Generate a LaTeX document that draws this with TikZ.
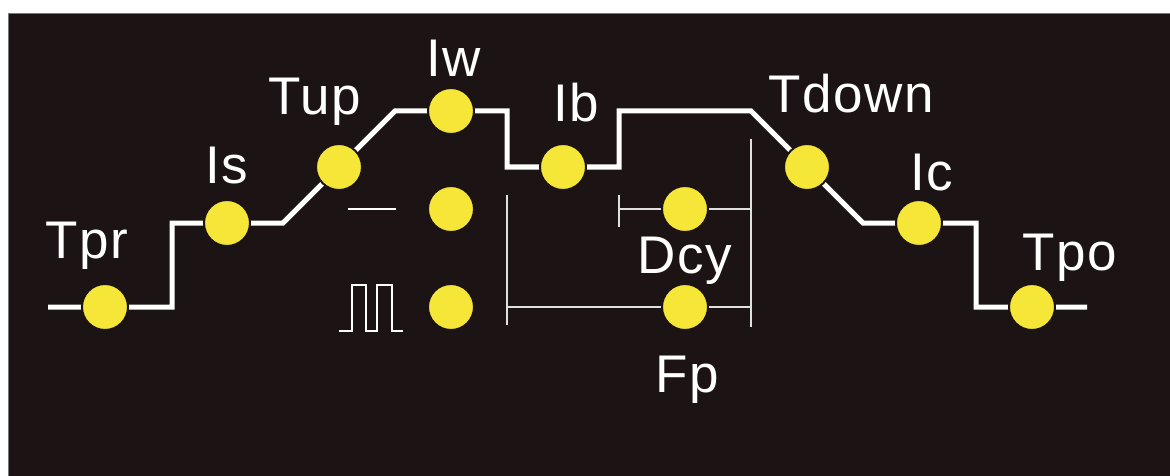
\documentclass[tikz,border=0pt]{standalone}
\usepackage{fontspec}
\setmainfont{Liberation Sans}
\usepackage{tikz}
\usetikzlibrary{backgrounds}
\definecolor{panel}{RGB}{27, 19, 20}
\definecolor{dotyellow}{RGB}{245, 230, 55}
\definecolor{rim}{RGB}{120, 120, 120}

\begin{document}
\begin{tikzpicture}[
    x=1pt, y=-1pt,
    dot/.style={circle, fill=dotyellow, draw=panel, line width=2pt, minimum size=46pt, inner sep=0pt},
    tag/.style={text=white, anchor=base, inner sep=0pt, font=\fontsize{53}{60}\selectfont\addfontfeature{LetterSpace=3}},
    wave/.style={white, line width=5pt, line join=miter},
    bracket/.style={white!88!black, line width=2pt},
    sym/.style={white, line width=2.5pt, line join=miter}
]
    \useasboundingbox (0,0) rectangle (1170,476);

    % dots on the weld curve
    \node[dot] (tpr) at (105,307) {};
    \node[dot] (is) at (227,223) {};
    \node[dot] (tup) at (339,167) {};
    \node[dot] (iw) at (451,111) {};
    \node[dot] (ib) at (563,167) {};
    \node[dot] (tdown) at (807,167) {};
    \node[dot] (ic) at (919,223) {};
    \node[dot] (tpo) at (1032,307) {};

    % dots for mode, duty cycle and pulse frequency
    \node[dot] (dc) at (451,209) {};
    \node[dot] (pulse) at (451,307) {};
    \node[dot] (dcy) at (685,209) {};
    \node[dot] (fp) at (685,307) {};

    % labels
    \node[tag] (tpr-t) at (87,258) {Tpr};
    \node[tag] (is-t) at (227,183) {Is};
    \node[tag] (tup-t) at (315,115) {Tup};
    \node[tag] (iw-t) at (454,77) {Iw};
    \node[tag] (ib-t) at (576,122) {Ib};
    \node[tag] (tdown-t) at (851,113) {Tdown};
    \node[tag] (ic-t) at (932,190) {Ic};
    \node[tag] (tpo-t) at (1070,270) {Tpo};
    \node[tag] (dcy-t) at (685,273) {Dcy};
    \node[tag] (fp-t) at (687,392) {Fp};

    % free ends and corners of the curve
    \coordinate (w0) at (48,307);
    \coordinate (w1) at (172,307);
    \coordinate (w2) at (172,223);
    \coordinate (w3) at (283,223);
    \coordinate (w4) at (395,111);
    \coordinate (w5) at (507,111);
    \coordinate (w6) at (507,167);
    \coordinate (w7) at (619,167);
    \coordinate (w8) at (619,111);
    \coordinate (w9) at (751,111);
    \coordinate (w10) at (863,223);
    \coordinate (w11) at (976,223);
    \coordinate (w12) at (976,307);
    \coordinate (w13) at (1087,307);

    \begin{scope}[on background layer]
        \fill[white] (0,0) rectangle (1170,476);
        \filldraw[fill=panel, draw=rim, line width=1pt] (8,14) rectangle (1171,477);
        \draw[wave] (w0) -- (tpr.center) -- (w1) -- (w2) -- (is.center) -- (w3) -- (tup.center) -- (w4)
            -- (iw.center) -- (w5) -- (w6) -- (ib.center) -- (w7) -- (w8) -- (w9) -- (tdown.center)
            -- (w10) -- (ic.center) -- (w11) -- (w12) -- (tpo.center) -- (w13);
    \end{scope}

    % brackets for Dcy and Fp
    \draw[bracket] (619,195) -- (619,227);
    \draw[bracket] (619,209) -- (dcy);
    \draw[bracket] (dcy) -- (751,209);
    \draw[bracket] (751,139) -- (751,327);
    \draw[bracket] (507,195) -- (507,325);
    \draw[bracket] (507,307) -- (fp);
    \draw[bracket] (fp) -- (751,307);

    % DC and pulse symbols
    \draw[sym] (348,209) -- (396,209);
    \draw[sym] (339,331) -- (352,331) -- (352,285) -- (366,285) -- (366,331) -- (377,331)
        -- (377,285) -- (392,285) -- (392,331) -- (403,331);
\end{tikzpicture}
\end{document}
